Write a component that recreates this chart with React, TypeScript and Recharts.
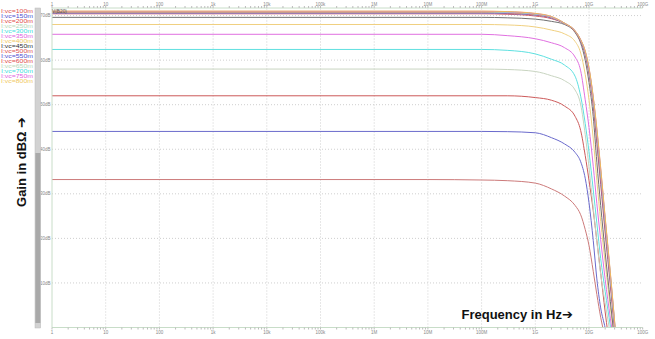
import React from 'react';
import { LineChart, Line, XAxis, YAxis, ReferenceLine } from 'recharts';

// Frequency points (Hz)
const freqs = [1, 1e7, 1e8, 3e8, 1e9, 2e9, 3.5e9, 5.5e9, 7e9, 8.5e9, 1e10, 1.2e10, 1.4e10, 1.65e10, 2e10, 2.5e10, 3.2e10];

// Gain (dB) per vc step
const s100 = [33.2, 33.2, 33.1, 32.95, 32.4, 31.1, 29.5, 27.4, 25.3, 22.0, 18.4, 12.6, 7.4, 2.3, -2.5, -9, -17];
const s150 = [44.0, 44.0, 44.0, 43.95, 43.7, 42.6, 41.2, 39.3, 37.2, 33.5, 28.0, 19.5, 10.9, 4.4, -0.1, -6.5, -14.5];
const s200 = [52.0, 52.0, 52.0, 52.0, 51.6, 51.0, 49.7, 47.4, 44.2, 38.6, 33.0, 26.2, 19.5, 12.2, 3.5, -5.6, -16];
const s250 = [58.0, 58.0, 58.0, 57.9, 57.45, 56.5, 55.4, 53.3, 50.0, 43.3, 36.0, 26.8, 19.3, 11.9, 5.5, -1.8, -11];
const s300 = [62.4, 62.4, 62.4, 62.2, 61.4, 60.2, 58.9, 56.4, 51.9, 45.8, 39.4, 30.9, 23.4, 15.5, 8.1, 0.3, -8];
const s350 = [65.8, 65.8, 65.8, 65.5, 64.8, 63.9, 62.8, 60.7, 57.6, 51.1, 44.9, 36.2, 27.8, 19.7, 10.8, 2.1, -7];
const s400 = [68.0, 68.0, 68.0, 67.9, 67.45, 66.75, 65.9, 64.2, 61.6, 56.8, 51.1, 42.3, 33.0, 23.8, 14.5, 4.5, -5.5];
const s450 = [69.6, 69.6, 69.6, 69.5, 69.2, 68.7, 68.0, 66.2, 63.8, 60.0, 55.0, 47.3, 37.1, 27.4, 16.9, 5.8, -6];
const s500 = [70.4, 70.4, 70.4, 70.3, 69.9, 69.3, 68.2, 66.4, 64.2, 61.2, 56.8, 49.8, 41.3, 32.1, 21.2, 9.4, -4.1];
const s550 = [70.55, 70.55, 70.55, 70.45, 70.1, 69.45, 68.2, 66.5, 64.35, 61.4, 57.2, 50.4, 42.3, 33.2, 22.3, 10.2, -3.6];
const s600 = [70.7, 70.7, 70.7, 70.6, 70.2, 69.55, 68.25, 66.5, 64.4, 61.65, 57.6, 50.8, 43.0, 34.0, 23.1, 10.9, -3.3];
const s650 = [70.8, 70.8, 70.8, 70.7, 70.3, 69.65, 68.25, 66.55, 64.5, 61.8, 57.8, 51.2, 43.6, 34.7, 23.7, 11.4, -3.0];
const s700 = [70.9, 70.9, 70.9, 70.8, 70.4, 69.7, 68.3, 66.55, 64.55, 61.9, 58.0, 51.4, 44.1, 35.2, 24.2, 11.8, -2.8];
const s750 = [70.95, 70.95, 70.95, 70.85, 70.45, 69.75, 68.3, 66.6, 64.6, 62.0, 58.2, 51.6, 44.4, 35.6, 24.5, 12.0, -2.6];
const s800 = [71.0, 71.0, 71.0, 70.9, 70.5, 69.8, 68.3, 66.6, 64.6, 62.1, 58.3, 51.8, 44.7, 35.9, 24.8, 12.3, -2.5];

const seriesNames = ['I:vc=100m', 'I:vc=150m', 'I:vc=200m', 'I:vc=250m', 'I:vc=300m', 'I:vc=350m', 'I:vc=400m', 'I:vc=450m', 'I:vc=500m', 'I:vc=550m', 'I:vc=600m', 'I:vc=650m', 'I:vc=700m', 'I:vc=750m', 'I:vc=800m'];
const seriesValues = [s100, s150, s200, s250, s300, s350, s400, s450, s500, s550, s600, s650, s700, s750, s800];
const lineColors = ['#cc7a7a', '#6a6acc', '#cc5a5a', '#c8d4c0', '#5ee0e0', '#e070e0', '#f0d080', '#707070', '#d45a5a', '#7070d0', '#d85858', '#bcd6b4', '#58dcdc', '#e46ae4', '#eebc58'];
const legendColors = ['#e05050', '#5050d0', '#e04848', '#b8d8b8', '#40dede', '#e060e0', '#f0c860', '#333333', '#e05050', '#5050d0', '#e04848', '#b8d8b8', '#40dede', '#e060e0', '#f0c860'];

const decadeTicks = [1, 10, 100, 1e3, 1e4, 1e5, 1e6, 1e7, 1e8, 1e9, 1e10, 1e11];
const decadeLabels = ['1', '10', '100', '1k', '10k', '100k', '1M', '10M', '100M', '1G', '10G', '100G'];
const minorMultipliers = [2, 3, 4, 5, 6, 7, 8, 9];
const gainTicks = [10, 20, 30, 40, 50, 60, 70];

const allXTicks: number[] = [];
decadeTicks.forEach((d, i) => {
  allXTicks.push(d);
  if (i < decadeTicks.length - 1) minorMultipliers.forEach((m) => allXTicks.push(d * m));
});

const fmtX = (v: number) => {
  const i = decadeTicks.findIndex((d) => Math.abs(d - v) / d < 1e-6);
  return i >= 0 ? decadeLabels[i] : '';
};

const rows = freqs.map((f, i) => {
  const r: Record<string, number> = { f };
  seriesValues.forEach((s, j) => {
    r['s' + j] = s[i];
  });
  return r;
});

const FONT = '"Liberation Sans", Arial, sans-serif';
const GREEN = '#c8ddc8';
const GRID = '#cfcfcf';

export default function App() {
  return (
    <div style={{ position: 'absolute', left: 0, top: 0, width: 655, height: 339, background: '#fff', fontFamily: FONT }}>
      <LineChart width={655} height={339} data={rows} margin={{ top: 0, right: 12.3, bottom: 0, left: 0 }}>
        <XAxis
          xAxisId="b"
          dataKey="f"
          type="number"
          scale="log"
          domain={[1, 1e11]}
          allowDataOverflow
          ticks={allXTicks}
          interval={0}
          tickFormatter={fmtX}
          height={11.5}
          tickSize={2}
          tickMargin={1}
          tick={{ fontSize: 4.5, fill: '#888', fontFamily: FONT }}
          axisLine={{ stroke: GREEN }}
          tickLine={{ stroke: '#bbb' }}
        />
        <XAxis
          xAxisId="t"
          orientation="top"
          dataKey="f"
          type="number"
          scale="log"
          domain={[1, 1e11]}
          allowDataOverflow
          ticks={allXTicks}
          interval={0}
          tickFormatter={fmtX}
          height={8}
          tickSize={2}
          tickMargin={0}
          tick={{ fontSize: 4.5, fill: '#888', fontFamily: FONT }}
          axisLine={{ stroke: GREEN }}
          tickLine={{ stroke: '#bbb' }}
        />
        <YAxis
          yAxisId="l"
          type="number"
          domain={[0, 71.7]}
          allowDataOverflow
          ticks={gainTicks}
          tickFormatter={(v: number) => `${v}dB`}
          width={52}
          tickSize={0}
          tickMargin={1.5}
          tick={{ fontSize: 4.5, fill: '#888', fontFamily: FONT }}
          axisLine={{ stroke: GREEN }}
          tickLine={false}
        />
        <YAxis
          yAxisId="r"
          orientation="right"
          type="number"
          domain={[0, 71.7]}
          allowDataOverflow
          width={0}
          tick={false}
          tickLine={false}
          axisLine={{ stroke: GREEN }}
        />
        {decadeTicks.slice(1, -1).map((d) => (
          <ReferenceLine key={'vx' + d} x={d} xAxisId="b" yAxisId="l" stroke={GRID} strokeDasharray="1 2" />
        ))}
        {gainTicks.map((g) => (
          <ReferenceLine key={'hy' + g} y={g} xAxisId="b" yAxisId="l" stroke={GRID} strokeDasharray="1 2" />
        ))}
        {seriesValues.map((_, j) => (
          <Line
            key={seriesNames[j]}
            xAxisId="b"
            yAxisId="l"
            dataKey={'s' + j}
            type="monotone"
            stroke={lineColors[j]}
            strokeWidth={1}
            dot={false}
            isAnimationActive={false}
          />
        ))}
      </LineChart>
      <svg width={655} height={339} style={{ position: 'absolute', left: 0, top: 0, pointerEvents: 'none' }}>
        <rect x={35} y={8} width={5.7} height={320} fill="#d2d2d2" />
        <rect x={35.3} y={153} width={5.2} height={170} fill="#a9a9a9" />
        <rect x={35} y={8} width={5.7} height={320} fill="none" stroke="#bdbdbd" strokeWidth={0.5} />
        {seriesNames.map((n, i) => (
          <text
            key={n}
            x={1}
            y={12.6 + i * 5.0}
            fontSize={5.2}
            fill={legendColors[i]}
            fontFamily={FONT}
            textLength={32}
            lengthAdjust="spacingAndGlyphs"
          >
            {n}
          </text>
        ))}
        <text x={52} y={13} fontSize={4.8} fill="#555" fontFamily={FONT}>V(B20)</text>
        <text
          x={0}
          y={0}
          transform="translate(25.8,162) rotate(-90)"
          textAnchor="middle"
          fontSize={13}
          fontWeight="bold"
          fill="#111"
          fontFamily={FONT}
        >
          Gain in dBΩ <tspan fontFamily="DejaVu Sans" fontWeight="bold">➔</tspan>
        </text>
        <text x={461.5} y={319} fontSize={13} fontWeight="bold" fill="#111" fontFamily={FONT}>
          Frequency in Hz<tspan fontFamily="DejaVu Sans" fontWeight="bold">➔</tspan>
        </text>
      </svg>
    </div>
  );
}
